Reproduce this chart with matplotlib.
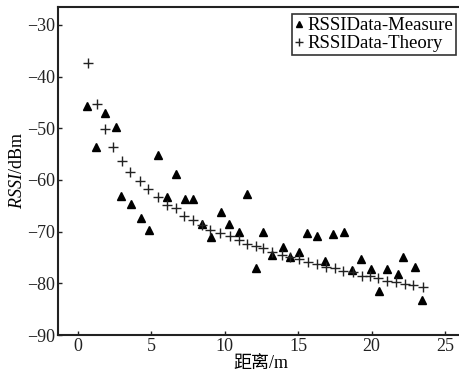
import matplotlib
matplotlib.use("Agg")
import matplotlib.pyplot as plt

plt.rcParams['font.family'] = ['Liberation Serif', 'Noto Sans CJK SC']
plt.rcParams['mathtext.fontset'] = 'custom'
plt.rcParams['mathtext.rm'] = 'Liberation Serif'
plt.rcParams['mathtext.it'] = 'Liberation Serif:italic'
plt.rcParams['axes.unicode_minus'] = True

measure_x = [0.6, 1.22, 1.88, 2.58, 2.95, 3.63, 4.29, 4.83, 5.48, 6.05, 6.69, 7.3, 7.82,
             8.43, 9.1, 9.73, 10.27, 10.97, 11.52, 12.12, 12.63, 13.24, 13.99, 14.44,
             15.07, 15.62, 16.3, 16.84, 17.39, 18.12, 18.64, 19.27, 19.95, 20.52, 21.06,
             21.77, 22.15, 22.95, 23.44]
measure_y = [-45.7, -53.6, -47.1, -49.7, -63.2, -64.7, -67.4, -69.6, -55.2, -63.3, -58.9,
             -63.6, -63.6, -68.6, -71.0, -66.2, -68.5, -70.1, -62.8, -77.0, -70.1, -74.5,
             -73.0, -75.0, -74.0, -70.3, -70.9, -75.6, -70.5, -70.1, -77.4, -75.3, -77.3,
             -81.5, -77.3, -78.2, -75.0, -76.9, -83.2]

theory_x = [0.72, 1.29, 1.86, 2.42, 2.99, 3.56, 4.24, 4.8, 5.48, 6.05, 6.69, 7.23, 7.86,
            8.43, 9.0, 9.68, 10.36, 10.97, 11.54, 12.13, 12.63, 13.2, 13.88, 14.44, 15.07,
            15.69, 16.3, 16.89, 17.5, 18.07, 18.75, 19.32, 19.88, 20.45, 21.06, 21.65,
            22.27, 22.83, 23.47]
theory_y = [-37.3, -45.4, -50.2, -53.6, -56.4, -58.5, -60.2, -61.7, -63.3, -64.9, -65.5,
            -66.9, -67.8, -68.7, -69.6, -70.3, -70.9, -71.6, -72.3, -72.7, -73.2, -73.9,
            -74.5, -75.0, -75.3, -75.8, -76.3, -76.9, -77.1, -77.6, -77.9, -78.5, -78.6,
            -79.0, -79.5, -79.7, -80.1, -80.3, -80.8]

x_ticks = [0, 5, 10, 15, 20, 25]
y_ticks = [-90, -80, -70, -60, -50, -40, -30]

fig = plt.figure(figsize=(4.59, 3.76), dpi=100)
ax = fig.add_axes([0.1257, 0.109, 0.885, 0.873])

ax.plot(measure_x, measure_y, linestyle='none', marker='^', color='black',
        markersize=5.2, label='RSSIData-Measure')
ax.plot(theory_x, theory_y, linestyle='none', marker='+', color='#222222',
        markersize=7, markeredgewidth=1.0, label='RSSIData-Theory')

ax.set_xlim(-1.36, 26.28)
ax.set_ylim(-90, -26.5)
ax.set_xticks(x_ticks)
ax.set_yticks(y_ticks)
ax.tick_params(direction='in', length=3, width=1, labelsize=13, pad=2, colors='#222222')
for s in ax.spines.values():
    s.set_linewidth(1.5)
    s.set_color('#222222')
ax.spines['right'].set_visible(False)

ax.set_xlabel('距离/m', fontsize=13, labelpad=0)
ax.set_ylabel(r'$\mathit{RSSI}$/dBm', fontsize=13, labelpad=1)

leg = ax.legend(loc='upper right', frameon=True, fancybox=False, fontsize=13.5,
                handlelength=0.5, handletextpad=0.2, borderpad=0.15,
                borderaxespad=0.4, labelspacing=0.05, markerscale=0.8)
leg.get_frame().set_edgecolor('black')
leg.get_frame().set_linewidth(1.2)

fig.savefig('out.png', dpi=100)
